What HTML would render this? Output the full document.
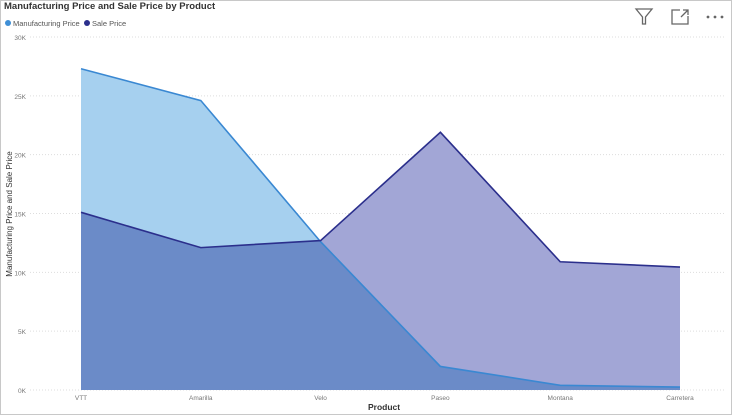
<!DOCTYPE html>
<html><head><meta charset="utf-8"><style>
body{margin:0;width:732px;height:415px;overflow:hidden;background:#fff;font-family:"Liberation Sans",sans-serif}
#frame{position:absolute;left:0;top:0;width:730px;height:413px;border:1px solid #c8c8c8}
</style></head><body>
<div id="frame"></div>
<svg id="c" width="732" height="415" style="position:absolute;left:0;top:0">
<text x="4" y="9" font-size="9.5" font-weight="bold" fill="#333">Manufacturing Price and Sale Price by Product</text>
<g>
<circle cx="8" cy="23" r="3" fill="#3f8fd6"/>
<text x="13" y="26" font-size="7.5" fill="#555">Manufacturing Price</text>
<circle cx="87" cy="23" r="3" fill="#2b2f8c"/>
<text x="92" y="26" font-size="7.5" fill="#555">Sale Price</text>
</g>
<g fill="none" stroke="#666" stroke-width="1.3"><path d="M636 9 L652 9 L645.5 17 L645.5 24 L642.5 24 L642.5 17 Z"/></g>
<g fill="none" stroke="#666" stroke-width="1.3"><path d="M680 10 L672 10 L672 24 L688 24 L688 16"/><path d="M681 17 L688 10 M683 10 L688 10 L688 15"/></g>
<g fill="#666"><circle cx="708" cy="17" r="1.4"/><circle cx="715" cy="17" r="1.4"/><circle cx="722" cy="17" r="1.4"/></g>
<g id="grid"></g><g id="areas"></g><g id="xl"></g>
<text x="368" y="410" font-size="8.5" font-weight="bold" fill="#333">Product</text>
<text transform="translate(12,214) rotate(-90)" text-anchor="middle" font-size="8" fill="#333">Manufacturing Price and Sale Price</text>
</svg>
<script>
const categories=["VTT","Amarilla","Velo","Paseo","Montana","Carretera"];
const manufacturing=[27.3,24.6,12.6,2.0,0.4,0.25];
const sale=[15.1,12.1,12.7,21.9,10.9,10.45];
const yTicks=[0,5,10,15,20,25,30];
const yTickLabels=["0K","5K","10K","15K","20K","25K","30K"];
const NS="http://www.w3.org/2000/svg";
const x=i=>81+i*(680-81)/(categories.length-1);
const y=v=>390-v*(353/30);
function mk(tag,attrs,parent){const e=document.createElementNS(NS,tag);for(const k in attrs)e.setAttribute(k,attrs[k]);parent.appendChild(e);return e;}
const grid=document.getElementById('grid'),areas=document.getElementById('areas'),xl=document.getElementById('xl');
yTicks.forEach((t,i)=>{
 const l=mk('line',{x1:30,x2:725,y1:y(t),y2:y(t),stroke:'#ddd','stroke-dasharray':'1 2','stroke-width':1},grid);
 
 
 const tx=mk('text',{x:26,y:y(t)+3,'text-anchor':'end','font-size':6.5,fill:'#777'},grid);
 tx.textContent=yTickLabels[i];
 
 
});
function pts(arr){return arr.map((v,i)=>[x(i),y(v)]);}
function areaPath(p){return 'M'+x(0)+','+y(0)+' '+p.map(q=>'L'+q[0]+','+q[1]).join(' ')+' L'+x(categories.length-1)+','+y(0)+' Z';}
const mp=pts(manufacturing),sp=pts(sale);
const a1=mk('path',{d:areaPath(mp),fill:'#a6d0ef'},areas);


const a2=mk('path',{d:areaPath(sp),fill:'#a2a6d6'},areas);


// overlap (min) polygon
let mn=[];
for(let i=0;i<categories.length;i++){
 mn.push([x(i),y(Math.min(manufacturing[i],sale[i]))]);
 if(i<categories.length-1){
  const d0=manufacturing[i]-sale[i],d1=manufacturing[i+1]-sale[i+1];
  if(d0*d1<0){const t=d0/(d0-d1);const v=manufacturing[i]+t*(manufacturing[i+1]-manufacturing[i]);mn.push([x(i)+t*(x(i+1)-x(i)),y(v)]);}
 }
}
const a3=mk('path',{d:areaPath(mn),fill:'#6b8bc8'},areas);


const l1=mk('polyline',{points:mp.map(q=>q.join(',')).join(' '),fill:'none',stroke:'#3a88d2','stroke-width':1.6},areas);


const l2=mk('polyline',{points:sp.map(q=>q.join(',')).join(' '),fill:'none',stroke:'#2b2f8c','stroke-width':1.6},areas);


categories.forEach((c,i)=>{
 const t=mk('text',{x:x(i),y:400,'text-anchor':'middle','font-size':6.5,fill:'#777'},xl);
 t.textContent=c;
 
 
});
</script>
</body></html>
